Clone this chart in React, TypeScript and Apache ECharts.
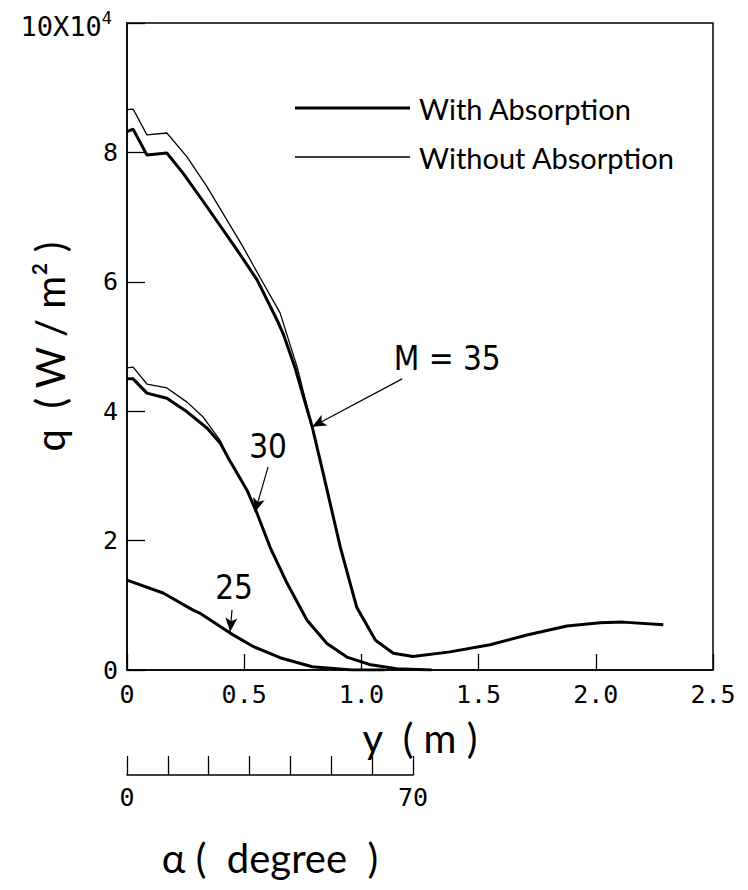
import React, { useEffect, useRef } from "react";
import * as echarts from "echarts";

// x: y (m), y: q (x10^4 W/m^2)
const m35With: number[][] = [
  [0, 8.32], [0.026, 8.36], [0.085, 7.96], [0.17, 7.99], [0.239, 7.68], [0.341, 7.16],
  [0.47, 6.49], [0.555, 6.03], [0.64, 5.41], [0.666, 5.2], [0.717, 4.67], [0.79, 3.76],
  [0.837, 3.04], [0.91, 1.9], [0.952, 1.34], [0.98, 0.97], [1.06, 0.46], [1.136, 0.26],
  [1.22, 0.21], [1.378, 0.28], [1.549, 0.39], [1.706, 0.54], [1.877, 0.68], [2.018, 0.73],
  [2.117, 0.74], [2.288, 0.7],
];
const m35Without: number[][] = [
  [0, 8.66], [0.026, 8.67], [0.085, 8.27], [0.17, 8.3], [0.256, 7.93], [0.341, 7.47],
  [0.495, 6.54], [0.567, 6.07], [0.653, 5.52], [0.727, 4.67], [0.79, 3.76],
];
const m30With: number[][] = [
  [0, 4.5], [0.026, 4.5], [0.085, 4.28], [0.17, 4.2], [0.256, 3.99], [0.341, 3.74],
  [0.397, 3.51], [0.43, 3.29], [0.512, 2.78], [0.555, 2.42], [0.61, 1.9], [0.683, 1.34],
  [0.768, 0.77], [0.853, 0.41], [0.938, 0.2], [1.04, 0.08], [1.15, 0.02], [1.3, 0.0],
];
const m30Without: number[][] = [
  [0, 4.67], [0.026, 4.68], [0.085, 4.42], [0.17, 4.36], [0.256, 4.14], [0.325, 3.91],
  [0.397, 3.55], [0.44, 3.23],
];
const m25With: number[][] = [
  [0, 1.39], [0.154, 1.19], [0.28, 0.93], [0.31, 0.88], [0.44, 0.57], [0.54, 0.36],
  [0.653, 0.19], [0.79, 0.05], [0.96, 0.0], [1.1, 0.0],
];

const xTicks = [0, 0.5, 1.0, 1.5, 2.0, 2.5];
const yTicks = [0, 2, 4, 6, 8, 10];
const alphaTicks = [0, 10, 20, 30, 40, 50, 60, 70];

const annotations = [
  { label: "M = 35", text: [1.366, 4.82], from: [1.174, 4.5], to: [0.79, 3.76] },
  { label: "30", text: [0.602, 3.46], from: [0.602, 3.14], to: [0.546, 2.44] },
  { label: "25", text: [0.457, 1.27], from: [0.448, 0.93], to: [0.44, 0.59] },
];

const NARROW = "'Liberation Sans Narrow', 'DejaVu Sans Condensed', 'Roboto Condensed', Roboto, sans-serif";
const TICKFONT = "'DejaVu Sans Mono', 'Liberation Mono', monospace";
const TITLEFONT = "Lato, 'Open Sans', sans-serif";

export default function App() {
  const ref = useRef<HTMLDivElement>(null);
  useEffect(() => {
    if (!ref.current) return;
    const chart = echarts.init(ref.current, null, { renderer: "svg" });
    const thick = (name: string, data: number[][], ann?: any) => ({
      type: "line",
      name,
      data,
      showSymbol: false,
      symbol: "none",
      smooth: false,
      lineStyle: { color: "#000", width: 3 },
      itemStyle: { color: "#000" },
      z: 3,
      ...(ann
        ? {
            markLine: {
              silent: true,
              symbol: ["none", "arrow"],
              symbolSize: [9, 14],
              label: { show: false },
              lineStyle: { color: "#000", width: 1.2, type: "solid" },
              data: [[{ coord: ann.from }, { coord: ann.to }]],
            },
            markPoint: {
              silent: true,
              symbol: "circle",
              symbolSize: 0,
              label: {
                show: true,
                position: "inside",
                formatter: ann.label,
                color: "#000",
                fontSize: 33,
                fontFamily: NARROW,
              },
              data: [{ coord: ann.text }],
            },
          }
        : {}),
    });
    const thin = (name: string, data: number[][]) => ({
      type: "line",
      name,
      data,
      showSymbol: false,
      symbol: "none",
      smooth: false,
      lineStyle: { color: "#000", width: 1.3 },
      itemStyle: { color: "#000" },
      z: 2,
    });
    chart.setOption({
      animation: false,
      backgroundColor: "#fff",
      grid: [
        { left: 127, right: 35, top: 23, bottom: 220, show: true, borderColor: "#000", borderWidth: 1.5, outerBoundsMode: "none", containLabel: false },
        { left: 127, width: 286, top: 774, height: 1, outerBoundsMode: "none", containLabel: false },
      ],
      legend: {
        orient: "vertical",
        left: 290,
        top: 88,
        itemWidth: 115,
        itemHeight: 14,
        itemGap: 19,
        selectedMode: false,
        data: [
          { name: "With Absorption", icon: "path://M0,0 H115 V3 H0 Z" },
          { name: "Without Absorption", icon: "path://M0,0 H115 V1.3 H0 Z" },
        ],
        textStyle: { fontSize: 29, lineHeight: 30, fontFamily: TITLEFONT, color: "#000", padding: [0, 0, 0, 4] },
      },
      xAxis: [
        {
          type: "value",
          gridIndex: 0,
          min: xTicks[0],
          max: xTicks[xTicks.length - 1],
          interval: 0.5,
          name: "y  ( m )",
          nameLocation: "middle",
          nameGap: 48,
          nameMoveOverlap: false,
          nameTextStyle: { fontSize: 40, fontFamily: TITLEFONT, color: "#000" },
          axisLine: { show: true, onZero: false, lineStyle: { color: "#000", width: 1.5 } },
          axisTick: { show: true, inside: true, length: 16, lineStyle: { color: "#000", width: 1.3 } },
          axisLabel: {
            color: "#000",
            fontSize: 25,
            fontFamily: TICKFONT,
            margin: 12,
            formatter: (v: number) => (v === 0 ? "0" : v.toFixed(1)),
          },
          splitLine: { show: false },
        },
        {
          type: "value",
          gridIndex: 1,
          min: alphaTicks[0],
          max: alphaTicks[alphaTicks.length - 1],
          interval: 10,
          name: "α (  degree  )",
          nameLocation: "middle",
          nameGap: 63,
          nameMoveOverlap: false,
          nameTextStyle: { fontSize: 40, fontFamily: TITLEFONT, color: "#000" },
          axisLine: { show: true, lineStyle: { color: "#000", width: 1.5 } },
          axisTick: { show: true, inside: true, length: 19, lineStyle: { color: "#000", width: 1.3 } },
          axisLabel: {
            color: "#000",
            fontSize: 25,
            fontFamily: TICKFONT,
            margin: 10,
            formatter: (v: number) => (v === alphaTicks[0] || v === alphaTicks[alphaTicks.length - 1] ? String(v) : ""),
          },
          splitLine: { show: false },
        },
      ],
      yAxis: [
        {
          type: "value",
          gridIndex: 0,
          min: yTicks[0],
          max: yTicks[yTicks.length - 1],
          interval: 2,
          name: "q  ( W / m² )",
          nameLocation: "middle",
          nameRotate: 90,
          nameGap: 57,
          nameMoveOverlap: false,
          nameTextStyle: { fontSize: 40, fontFamily: TITLEFONT, color: "#000" },
          axisLine: { show: true, onZero: false, lineStyle: { color: "#000", width: 1.5 } },
          axisTick: { show: true, inside: true, length: 18, lineStyle: { color: "#000", width: 1.3 } },
          axisLabel: {
            color: "#000",
            fontSize: 25,
            fontFamily: TICKFONT,
            margin: 9,
            formatter: (v: number) => (v === 10 ? "{a|10X10}{s|4}" : String(v)),
            rich: {
              a: { fontSize: 27, fontFamily: TICKFONT, color: "#000", padding: [0, 0, -6, 0] },
              s: { fontSize: 17, fontFamily: TICKFONT, color: "#000", verticalAlign: "top", padding: [0, 6, 10, 0] },
            },
          },
          splitLine: { show: false },
        },
        { type: "value", gridIndex: 1, show: false, min: 0, max: 1 },
      ],
      series: [
        thin("Without Absorption", m35Without),
        thin("Without Absorption", m30Without),
        thick("With Absorption", m35With, annotations[0]),
        thick("With Absorption", m30With, annotations[1]),
        thick("With Absorption", m25With, annotations[2]),
      ],
    });
    return () => chart.dispose();
  }, []);
  return (
    <div
      ref={ref}
      style={{ position: "absolute", left: 0, top: 0, width: 748, height: 890, background: "#fff" }}
    />
  );
}
